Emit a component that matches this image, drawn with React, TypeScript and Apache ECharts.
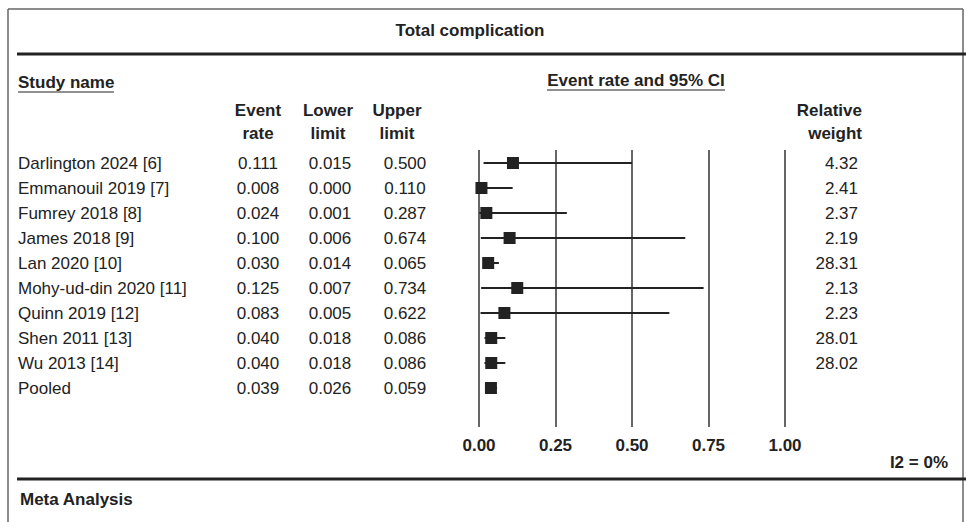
import React, { useRef, useEffect } from 'react';
import * as echarts from 'echarts';

const studies = [
  'Darlington 2024 [6]', 'Emmanouil 2019 [7]', 'Fumrey 2018 [8]', 'James 2018 [9]', 'Lan 2020 [10]',
  'Mohy-ud-din 2020 [11]', 'Quinn 2019 [12]', 'Shen 2011 [13]', 'Wu 2013 [14]', 'Pooled',
];
const eventRate = [0.111, 0.008, 0.024, 0.1, 0.03, 0.125, 0.083, 0.04, 0.04, 0.039];
const lowerLimit = [0.015, 0.0, 0.001, 0.006, 0.014, 0.007, 0.005, 0.018, 0.018, 0.026];
const upperLimit = [0.5, 0.11, 0.287, 0.674, 0.065, 0.734, 0.622, 0.086, 0.086, 0.059];
const weights = ['4.32', '2.41', '2.37', '2.19', '28.31', '2.13', '2.23', '28.01', '28.02', ''];

const FONT = 'Liberation Sans, Arial, sans-serif';
const ROW0 = 163;
const ROW_H = 25;

export default function App() {
  const chartRef = useRef<HTMLDivElement>(null);

  useEffect(() => {
    if (!chartRef.current) return;
    const chart = echarts.init(chartRef.current, null, { renderer: 'svg' });

    const txt = (x: number, y: number, text: string, opts: any = {}) => ({
      type: 'text', x, y,
      style: { text, font: `${opts.bold ? 'bold ' : ''}17px ${FONT}`, fill: '#222', align: opts.align || 'left', verticalAlign: 'middle' },
    });
    const ln = (x1: number, y1: number, x2: number, y2: number, w = 1, c = '#666') => ({
      type: 'line', shape: { x1, y1, x2, y2 }, style: { stroke: c, lineWidth: w },
    });

    const fmt = (v: number) => v.toFixed(3);
    const tableTexts: any[] = [];
    studies.forEach((s, i) => {
      const y = ROW0 + i * ROW_H;
      tableTexts.push(txt(18, y, s));
      tableTexts.push(txt(258, y, fmt(eventRate[i]), { align: 'center' }));
      tableTexts.push(txt(330, y, fmt(lowerLimit[i]), { align: 'center' }));
      tableTexts.push(txt(405, y, fmt(upperLimit[i]), { align: 'center' }));
      if (weights[i]) tableTexts.push(txt(858, y, weights[i], { align: 'right' }));
    });

    const data = studies.map((_, i) => [i, eventRate[i], lowerLimit[i], upperLimit[i]]);

    chart.setOption({
      animation: false,
      grid: { left: 479, width: 306, top: 150, height: 277 },
      xAxis: {
        type: 'value', min: 0, max: 1, interval: 0.25,
        axisLine: { show: false }, axisTick: { show: false },
        splitLine: { show: true, lineStyle: { color: '#333', width: 1.5 } },
        axisLabel: { formatter: (v: number) => v.toFixed(2), fontWeight: 'bold', fontSize: 17, color: '#222', fontFamily: FONT, margin: 10 },
      },
      yAxis: { type: 'value', inverse: true, min: -0.52, max: 10.56, show: false },
      series: [{
        type: 'custom',
        data,
        encode: { x: [1, 2, 3], y: 0 },
        renderItem: (params: any, api: any) => {
          const row = api.value(0);
          const c = api.coord([api.value(1), row]);
          const lo = api.coord([api.value(2), row]);
          const hi = api.coord([api.value(3), row]);
          const s = 12;
          return {
            type: 'group',
            children: [
              { type: 'line', shape: { x1: lo[0], y1: c[1], x2: hi[0], y2: c[1] }, style: { stroke: '#222', lineWidth: 2 } },
              { type: 'rect', shape: { x: c[0] - s / 2, y: c[1] - s / 2, width: s, height: s }, style: { fill: '#222' } },
            ],
          };
        },
      }],
      graphic: [
        ln(8, 9, 963, 9, 1.5),
        ln(8, 9, 8, 522, 1.5),
        ln(963, 9, 963, 522, 1.5),
        ln(17, 54, 966, 54, 3, '#222'),
        ln(17, 479, 966, 479, 3, '#222'),
        txt(470, 30, 'Total complication', { bold: true, align: 'center' }),
        txt(18, 82, 'Study name', { bold: true }),
        ln(18, 92, 114, 92, 1.2, '#222'),
        txt(636, 80, 'Event rate and 95% CI', { bold: true, align: 'center' }),
        ln(547, 90, 725, 90, 1.2, '#222'),
        txt(258, 110, 'Event', { bold: true, align: 'center' }),
        txt(258, 133, 'rate', { bold: true, align: 'center' }),
        txt(328, 110, 'Lower', { bold: true, align: 'center' }),
        txt(328, 133, 'limit', { bold: true, align: 'center' }),
        txt(397, 110, 'Upper', { bold: true, align: 'center' }),
        txt(397, 133, 'limit', { bold: true, align: 'center' }),
        txt(862, 110, 'Relative', { bold: true, align: 'right' }),
        txt(862, 133, 'weight', { bold: true, align: 'right' }),
        txt(948, 462, 'I2 = 0%', { bold: true, align: 'right' }),
        txt(20, 499, 'Meta Analysis', { bold: true }),
        ...tableTexts,
      ],
    });

    return () => chart.dispose();
  }, []);

  return <div ref={chartRef} style={{ width: 966, height: 522, position: 'absolute', left: 0, top: 0, background: '#fff' }} />;
}
